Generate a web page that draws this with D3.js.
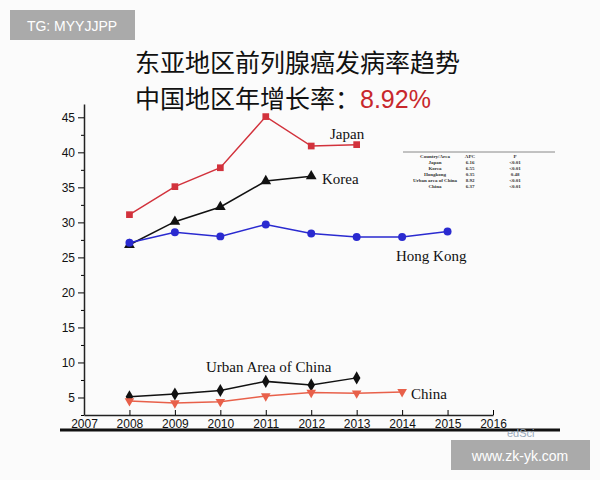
<!DOCTYPE html><html><head><meta charset="utf-8"><script src="https://cdn.jsdelivr.net/npm/d3@7"></script>
<style>body{margin:0;background:#fff}</style></head><body><svg id="c" width="600" height="480"></svg>
<script>
const years=[2008,2009,2010,2011,2012,2013,2014,2015];
const japan=[31.1,35.1,37.8,45.1,40.9,41.1];
const korea=[26.8,30.1,32.2,35.9,36.6];
const hongKong=[27.1,28.6,28.0,29.7,28.4,27.9,27.9,28.7];
const urban=[5.1,5.5,6.0,7.3,6.8,7.8];
const china=[4.5,4.2,4.4,5.2,5.7,5.6,5.8];
const xTicks=[2007,2008,2009,2010,2011,2012,2013,2014,2015,2016];
const yTicks=[5,10,15,20,25,30,35,40,45];
const yMinor=[2.5,7.5,12.5,17.5,22.5,27.5,32.5,37.5,42.5];
const tableRows=[["Country/Area","APC","P"],["Japan","6.16","<0.01"],["Korea","6.55","<0.01"],["Hongkong","0.35","0.48"],["Urban area of China","8.92","<0.01"],["China","6.37","<0.01"]];
const svg=d3.select("#c");
svg.append("rect").attr("width",600).attr("height",480).attr("fill","#fbfbfb");
const x=d3.scaleLinear().domain([2007,2016]).range([84,493]);
const y=d3.scaleLinear().domain([2.5,46.9]).range([415,104]);
svg.append("g").attr("transform","translate(84,0)").call(d3.axisLeft(y).tickValues(yMinor).tickSize(3).tickFormat("").tickSizeOuter(0)).call(g=>g.select(".domain").remove());
svg.append("g").attr("transform","translate(0,415)").call(d3.axisBottom(x).tickValues(xTicks).tickFormat(d3.format("d")).tickSize(-5).tickSizeOuter(0))
 .call(g=>{g.select(".domain").attr("stroke","#222").attr("stroke-width",1.5);g.selectAll("text").attr("font-family","Liberation Sans").attr("font-size",12).attr("dy",10).attr("fill","#111");});
svg.append("g").attr("transform","translate(84,0)").call(d3.axisLeft(y).tickValues(yTicks).tickSize(6).tickSizeOuter(0))
 .call(g=>{g.select(".domain").attr("stroke","#222").attr("stroke-width",1.5);g.selectAll("text").attr("font-family","Liberation Sans").attr("font-size",12).attr("fill","#111");});
svg.append("line").attr("x1",60).attr("x2",560).attr("y1",430).attr("y2",430).attr("stroke","#111").attr("stroke-width",3);
function series(data,color,mk,msize){
 const pts=data.map((v,i)=>[x(years[i]),y(v)]);
 svg.append("path").attr("d",d3.line()(pts)).attr("fill","none").attr("stroke",color).attr("stroke-width",1.5);
 svg.selectAll(null).data(pts).enter().append("path").attr("transform",d=>`translate(${d[0]},${d[1]})${mk==d3.symbolTriangle2?" rotate(180)":""}`)
  .attr("d",d3.symbol().type(mk==d3.symbolTriangle2?d3.symbolTriangle:mk).size(msize)).attr("fill",color);
}
series(japan,"#d2323c",d3.symbolSquare,45);
series(korea,"#111",d3.symbolTriangle,50);
series(hongKong,"#2a2ad0",d3.symbolCircle,50);
series(urban,"#111",d3.symbolDiamond,50);
series(china,"#e8604a",d3.symbolTriangle2,40);
const lab=(t,xx,yy)=>svg.append("text").attr("x",xx).attr("y",yy).text(t).attr("font-family","Liberation Serif").attr("font-size",15).attr("fill","#111");
lab("Japan",330,139);lab("Korea",322,184);lab("Hong Kong",396,261);lab("Urban Area of China",206,372);lab("China",411,399);
svg.append("text").attr("x",135).attr("y",72).text("东亚地区前列腺癌发病率趋势").attr("font-family","Noto Sans CJK SC").attr("font-size",25).attr("fill","#111");
const t2=svg.append("text").attr("x",135).attr("y",108).attr("font-family","Noto Sans CJK SC").attr("font-size",25).attr("fill","#111");
t2.append("tspan").text("中国地区年增长率：");t2.append("tspan").text("8.92%").attr("fill","#c8282c").attr("font-family","Liberation Sans");
const tb=svg.append("g").attr("font-family","Liberation Serif").attr("font-size",5).attr("fill","#333");
svg.append("line").attr("x1",403).attr("x2",555).attr("y1",152).attr("y2",152).attr("stroke","#888");
tableRows.forEach((r,i)=>{[425,470,515].forEach((cx,j)=>tb.append("text").attr("x",cx+(j==0?10:0)).attr("y",158+i*6).attr("text-anchor","middle").text(r[j]).attr("font-weight","bold"));});
svg.append("rect").attr("x",10).attr("y",10).attr("width",125).attr("height",30).attr("fill","#aaa");
svg.append("text").attr("x",72).attr("y",31).attr("text-anchor","middle").text("TG: MYYJJPP").attr("font-family","Liberation Sans").attr("font-size",14).attr("fill","#fff");
svg.append("text").attr("x",507).attr("y",437).text("edSci").attr("font-family","Liberation Sans").attr("font-size",11).attr("fill","#9ab");
svg.append("rect").attr("x",451).attr("y",440).attr("width",139).attr("height",30).attr("fill","#aaa");
svg.append("text").attr("x",520).attr("y",461).attr("text-anchor","middle").text("www.zk-yk.com").attr("font-family","Liberation Sans").attr("font-size",14).attr("fill","#fff");
</script></body></html>
